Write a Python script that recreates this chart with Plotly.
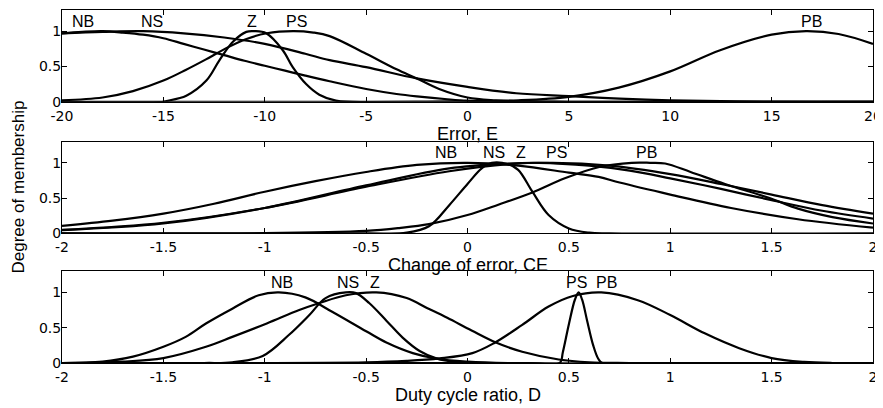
import plotly.graph_objects as go

# ---------------- data ----------------
# Panel 1: Error, E
e_nb_x = [-20, -19, -18, -17, -16, -15, -14, -13, -12, -11, -10, -9, -8, -6.8, -5, -3.5, -2.5, -1, 0, 2, 5, 20]
e_nb_y = [0.97, 0.99, 1.0, 0.98, 0.95, 0.9, 0.82, 0.74, 0.66, 0.58, 0.51, 0.44, 0.37, 0.29, 0.18, 0.11, 0.076, 0.035, 0.015, 0.005, 0.0, 0.0]
e_ns_x = [-20, -18, -16, -14, -12, -10, -8, -6.8, -5, -2.5, 0, 2.4, 5, 7.5, 10, 12.5, 15, 20]
e_ns_y = [0.97, 0.99, 1.0, 0.97, 0.91, 0.82, 0.68, 0.59, 0.49, 0.33, 0.21, 0.12, 0.08, 0.045, 0.02, 0.008, 0.002, 0.0]
e_z_x = [-20, -15, -14.85, -13.87, -12.88, -12.23, -11.57, -10.91, -10.5, -9.93, -9.11, -8.62, -7.96, -7.31, -6.49, -5.67, 20]
e_z_y = [0.0, 0.0, 0.01, 0.086, 0.3, 0.59, 0.85, 0.99, 1.0, 0.97, 0.73, 0.49, 0.25, 0.1, 0.015, 0.0, 0.0]
e_ps_x = [-20, -18, -16.5, -15, -13.9, -12.9, -11.9, -10.9, -9.9, -8.6, -7.6, -6.8, -5, -3.5, -2.5, -1.4, 0, 1.4, 3, 5, 20]
e_ps_y = [0.02, 0.06, 0.15, 0.3, 0.45, 0.6, 0.76, 0.89, 0.97, 1.0, 0.98, 0.93, 0.68, 0.46, 0.33, 0.18, 0.06, 0.02, 0.003, 0.0, 0.0]
e_pb_x = [-20, -5, -2, 0, 2.5, 5, 7.46, 10, 12.46, 15, 16.7, 18.3, 20]
e_pb_y = [0.0, 0.0, 0.003, 0.006, 0.02, 0.07, 0.2, 0.43, 0.73, 0.95, 1.0, 0.96, 0.82]

# Panel 2: Change of error, CE
c_nb_x = [-2, -1.75, -1.5, -1.25, -1, -0.75, -0.5, -0.25, 0, 0.25, 0.5, 0.647, 0.75, 1.0, 1.3, 1.63, 2.0]
c_nb_y = [0.107, 0.18, 0.28, 0.42, 0.59, 0.74, 0.87, 0.97, 1.0, 0.96, 0.86, 0.8, 0.72, 0.55, 0.36, 0.2, 0.08]
c_ns_x = [-2, -0.5, -0.3, -0.19, -0.09, 0.0, 0.07, 0.12, 0.2, 0.25, 0.32, 0.4, 0.5, 0.6, 0.7, 2]
c_ns_y = [0.0, 0.0, 0.01, 0.1, 0.4, 0.7, 0.92, 1.0, 0.98, 0.9, 0.59, 0.26, 0.07, 0.01, 0.0, 0.0]
c_z_x = [-2, -1.5, -1, -0.5, -0.09, 0.2, 0.35, 0.6, 0.8, 1.0, 1.25, 1.5, 1.75, 2]
c_z_y = [0.046, 0.14, 0.36, 0.68, 0.92, 0.99, 1.0, 0.96, 0.89, 0.78, 0.63, 0.47, 0.32, 0.21]
c_ps_x = [-2, -1.5, -1, -0.5, -0.09, 0.2, 0.42, 0.7, 1.0, 1.25, 1.5, 1.75, 2]
c_ps_y = [0.05, 0.15, 0.36, 0.66, 0.88, 0.98, 1.0, 0.96, 0.84, 0.7, 0.55, 0.4, 0.28]
c_pb_x = [-2, -1, -0.5, -0.337, -0.19, 0.0, 0.155, 0.32, 0.48, 0.65, 0.81, 0.9, 0.975, 1.1, 1.27, 1.5, 1.63, 1.8, 2]
c_pb_y = [0.0, 0.003, 0.035, 0.075, 0.13, 0.26, 0.41, 0.58, 0.78, 0.94, 1.0, 1.0, 0.99, 0.87, 0.7, 0.49, 0.35, 0.23, 0.14]

# Panel 3: Duty cycle ratio, D
d_nb_x = [-2, -1.8, -1.65, -1.5, -1.39, -1.29, -1.16, -1.03, -0.93, -0.8, -0.67, -0.5, -0.4, -0.27, -0.15, 0, 0.2, 2]
d_nb_y = [0.0, 0.02, 0.09, 0.23, 0.37, 0.56, 0.77, 0.96, 1.0, 0.93, 0.73, 0.45, 0.29, 0.14, 0.06, 0.02, 0.0, 0.0]
d_ns_x = [-2, -1.3, -1.16, -1.01, -0.88, -0.78, -0.7, -0.6, -0.55, -0.485, -0.4, -0.32, -0.236, -0.154, -0.07, 0.05, 2]
d_ns_y = [0.0, 0.0, 0.01, 0.1, 0.4, 0.68, 0.92, 1.0, 0.99, 0.85, 0.6, 0.36, 0.17, 0.065, 0.02, 0.0, 0.0]
d_z_x = [-2, -1.7, -1.5, -1.29, -1.16, -0.99, -0.83, -0.73, -0.6, -0.45, -0.3, -0.2, -0.1, 0.02, 0.14, 0.27, 0.45, 0.6, 0.8, 2]
d_z_y = [0.0, 0.02, 0.07, 0.23, 0.37, 0.56, 0.75, 0.85, 0.96, 1.0, 0.92, 0.78, 0.64, 0.46, 0.29, 0.16, 0.05, 0.01, 0.0, 0.0]
d_ps_x = [-2, 0.3, 0.455, 0.47, 0.5, 0.53, 0.548, 0.565, 0.59, 0.62, 0.645, 0.665, 0.8, 2]
d_ps_y = [0.0, 0.0, 0.0, 0.15, 0.55, 0.9, 1.0, 0.9, 0.6, 0.25, 0.06, 0.0, 0.0, 0.0]
d_pb_x = [-2, -0.5, -0.3, -0.138, 0.024, 0.13, 0.27, 0.4, 0.52, 0.66, 0.84, 1.0, 1.17, 1.34, 1.5, 1.66, 1.8, 2]
d_pb_y = [0.0, 0.01, 0.03, 0.065, 0.14, 0.28, 0.54, 0.8, 0.95, 1.0, 0.89, 0.68, 0.42, 0.21, 0.07, 0.015, 0.0, 0.0]

# Term labels and their x positions
term_names = ["NB", "NS", "Z", "PS", "PB"]
e_label_x = [-18.98, -15.56, -10.63, -8.45, 16.97]
c_label_x = [-0.107, 0.13, 0.262, 0.437, 0.885]
d_label_x = [-0.916, -0.591, -0.457, 0.54, 0.688]

# Axis ticks
e_ticks = [-20, -15, -10, -5, 0, 5, 10, 15, 20]
cd_ticks = [-2, -1.5, -1, -0.5, 0, 0.5, 1, 1.5, 2]
cd_ticktext = ["-2", "-1.5", "-1", "-0.5", "0", "0.5", "1", "1.5", "2"]
y_ticks = [0, 0.5, 1]
y_ticktext = ["0", "0.5", "1"]

x_titles = ["Error, E", "Change of error, CE", "Duty cycle ratio, D"]
y_title = "Degree of membership"

# ---------------- figure ----------------
# The page body has an 8px margin, so the figure is placed at (8, 8) in the window.
OFF = 8
W, H = 883 - OFF, 408 - OFF
TICK_FONT = dict(family="DejaVu Sans", size=14, color="black")
LABEL_FONT = dict(family="Liberation Sans", size=16, color="black")
TITLE_FONT = dict(family="Liberation Sans", size=18, color="black")
YTITLE_FONT = dict(family="Liberation Sans", size=17, color="black")

# panel frames in window pixels (top, bottom); left 62, right 875
panel_px = [(9, 101), (141, 233), (271, 363)]
ML = 62 - OFF
MR = W - (875 - OFF)
MT = panel_px[0][0] - OFF
MB = H - (panel_px[2][1] - OFF)
plot_h = H - MT - MB


def dom(top_px, bot_px):
    top_f, bot_f = top_px - OFF, bot_px - OFF
    return [(H - MB - bot_f) / plot_h, (H - MB - top_f) / plot_h]


domains = [dom(*p) for p in panel_px]

fig = go.Figure()

panels = [
    ("x", "y", [(e_nb_x, e_nb_y), (e_ns_x, e_ns_y), (e_z_x, e_z_y), (e_ps_x, e_ps_y), (e_pb_x, e_pb_y)]),
    ("x2", "y2", [(c_nb_x, c_nb_y), (c_ns_x, c_ns_y), (c_z_x, c_z_y), (c_ps_x, c_ps_y), (c_pb_x, c_pb_y)]),
    ("x3", "y3", [(d_nb_x, d_nb_y), (d_ns_x, d_ns_y), (d_z_x, d_z_y), (d_ps_x, d_ps_y), (d_pb_x, d_pb_y)]),
]
for xa, ya, curves in panels:
    for name, (xs, ys) in zip(term_names, curves):
        fig.add_trace(go.Scatter(
            x=xs, y=ys, mode="lines", name=name, xaxis=xa, yaxis=ya,
            line=dict(color="black", width=2.2, shape="spline", smoothing=1.0),
            showlegend=False, hoverinfo="skip",
        ))

common = dict(
    showline=True, linecolor="black", linewidth=1, mirror="ticks",
    ticks="inside", ticklen=5, tickwidth=1, tickcolor="black",
    showgrid=False, zeroline=False, tickfont=TICK_FONT,
    ticklabeloverflow="allow",
)

layout = dict(
    width=W, height=H,
    margin=dict(l=ML, r=MR, t=MT, b=MB),
    paper_bgcolor="white", plot_bgcolor="white",
    font=dict(family="Liberation Sans", size=16, color="black"),
)
layout["xaxis"] = dict(common, range=[-20, 20], tickvals=e_ticks, ticktext=[str(t) for t in e_ticks],
                       anchor="y", domain=[0, 1], ticklabelstandoff=1)
layout["xaxis2"] = dict(common, range=[-2, 2], tickvals=cd_ticks, ticktext=cd_ticktext,
                        anchor="y2", domain=[0, 1], ticklabelstandoff=1)
layout["xaxis3"] = dict(common, range=[-2, 2], tickvals=cd_ticks, ticktext=cd_ticktext,
                        anchor="y3", domain=[0, 1], ticklabelstandoff=1)
for i, key in enumerate(["yaxis", "yaxis2", "yaxis3"]):
    layout[key] = dict(common, range=[0, 1.3], tickvals=y_ticks, ticktext=y_ticktext,
                       anchor=["x", "x2", "x3"][i], domain=domains[i], ticklabelstandoff=-3)

fig.update_layout(**layout)

annotations = []
label_sets = [("x", "y", e_label_x), ("x2", "y2", c_label_x), ("x3", "y3", d_label_x)]
for xa, ya, xs in label_sets:
    for name, lx in zip(term_names, xs):
        annotations.append(dict(
            x=lx, y=1.14, xref=xa, yref=ya, text=name, showarrow=False,
            xanchor="center", yanchor="middle", font=LABEL_FONT,
        ))

for i, t in enumerate(x_titles):
    annotations.append(dict(
        x=0.5, y=domains[i][0], xref="paper", yref="paper", text=t, showarrow=False,
        xanchor="center", yanchor="middle", yshift=-32, font=TITLE_FONT,
    ))

annotations.append(dict(
    x=0, y=(domains[1][0] + domains[1][1]) / 2, xref="paper", yref="paper",
    text=y_title, showarrow=False, textangle=-90,
    xanchor="center", yanchor="middle", xshift=-(62 - 18),
    font=YTITLE_FONT,
))
fig.update_layout(annotations=annotations)

fig.write_html("out.html")
